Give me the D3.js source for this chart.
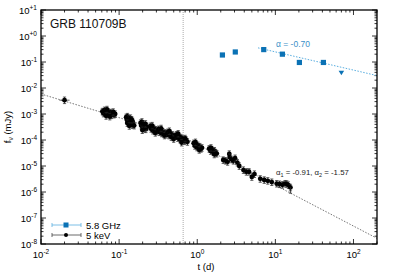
<!DOCTYPE html>
<html><head><meta charset="utf-8">
<script src="https://cdn.jsdelivr.net/npm/d3@7"></script>
<style>
html,body{margin:0;padding:0;background:#fff;}
svg{display:block;font-family:"Liberation Sans",Arial,sans-serif;}
</style></head>
<body>
<svg id="chart" width="395" height="275"></svg>
<script>
// ---------- data ----------
const xrayT = [0.020,
 0.061,0.063,0.065,0.067,0.069,0.071,0.073,0.075,0.078,0.080,0.083,0.086,0.089,0.068,0.076,0.070,0.084,
 0.123,0.126,0.128,0.130,0.132,0.134,0.137,0.140,0.143,0.146,0.149,0.152,0.156,0.127,0.135,0.145,
 0.188,0.192,0.196,0.200,0.205,0.210,0.215,0.220,0.226,0.198,0.218,
 0.250,0.256,0.262,0.270,0.278,0.286,0.295,0.305,0.265,0.290,
 0.320,0.330,0.340,0.350,0.362,0.375,0.388,0.400,0.345,0.380,
 0.420,0.435,0.450,0.465,0.480,0.495,0.510,0.440,0.500,
 0.540,0.560,0.580,0.600,0.620,0.640,0.660,0.690,0.720,0.750,0.570,0.630,0.700,
 0.90,0.93,0.96,0.99,1.02,1.05,1.08,1.12,1.15,0.95,1.06,
 1.42,1.48,1.54,1.60,1.66,1.72,1.78,1.50,1.65,
 2.15,2.30,2.45,2.57,2.60,2.75,2.90,3.05,3.26,3.45,3.90,4.25,4.60,5.00,5.40,
 6.4,7.2,8.0,9.0,10.4,11.3,12.3,13.3,14.0,14.7,15.6];
const xrayF = [3.4e-3,
 1.25e-3,1.05e-3,1.4e-3,1.15e-3,1.3e-3,0.95e-3,1.2e-3,1.05e-3,1.15e-3,0.9e-3,1.05e-3,0.95e-3,1.0e-3,0.85e-3,0.8e-3,1.5e-3,1.2e-3,
 7.5e-4,6.0e-4,8.0e-4,5.0e-4,6.5e-4,4.2e-4,5.5e-4,7.0e-4,4.6e-4,3.8e-4,5.2e-4,4.0e-4,3.6e-4,4.5e-4,3.5e-4,6.0e-4,
 4.5e-4,3.6e-4,5.0e-4,3.0e-4,4.0e-4,2.7e-4,3.4e-4,2.6e-4,3.1e-4,2.4e-4,4.2e-4,
 3.4e-4,2.7e-4,3.0e-4,2.3e-4,2.8e-4,2.2e-4,2.5e-4,2.1e-4,3.6e-4,1.9e-4,
 2.6e-4,2.0e-4,2.3e-4,1.8e-4,2.1e-4,1.7e-4,1.9e-4,1.6e-4,2.8e-4,1.5e-4,
 2.0e-4,1.5e-4,1.8e-4,1.3e-4,1.6e-4,1.25e-4,1.4e-4,2.2e-4,1.1e-4,
 1.6e-4,1.2e-4,1.4e-4,1.05e-4,1.25e-4,0.95e-4,1.1e-4,0.9e-4,1.0e-4,0.85e-4,1.75e-4,0.8e-4,1.15e-4,
 7.5e-5,6.0e-5,7.0e-5,5.2e-5,6.3e-5,4.8e-5,5.6e-5,4.6e-5,5.0e-5,8.2e-5,4.2e-5,
 4.6e-5,3.8e-5,4.3e-5,3.4e-5,3.9e-5,3.2e-5,3.0e-5,5.0e-5,2.8e-5,
 1.7e-5,1.6e-5,1.45e-5,2.9e-5,2.2e-5,1.8e-5,1.6e-5,2.0e-5,1.35e-5,1.0e-5,7.0e-6,6.0e-6,6.0e-6,3.8e-6,4.9e-6,
 3.2e-6,2.9e-6,2.7e-6,2.4e-6,2.1e-6,2.0e-6,1.9e-6,2.1e-6,2.05e-6,1.85e-6,1.5e-6];

const radioT = [2.1, 3.07, 7.1, 12.3, 20.3, 41.2];
const radioF = [0.186, 0.243, 0.30, 0.20, 0.096, 0.096];
const radioLimitT = [70];
const radioLimitF = [0.038];

// fits
const xrayFit = {t0: 0.01, tb: 0.66, tEnd: 200, Fb: 1.30e-4, a1: -0.91, a2: -1.57};
const radioFit = {t0: 6.0, tEnd: 200, F0: 0.35, a: -0.70};
const vlineT = 0.66;

const xTicks = [1e-2, 1e-1, 1e0, 1e1, 1e2];
const xTickExp = ["-2", "-1", "0", "1", "2"];
const yTicks = [1e1, 1e0, 1e-1, 1e-2, 1e-3, 1e-4, 1e-5, 1e-6, 1e-7, 1e-8];
const yTickExp = ["+1", "+0", "-1", "-2", "-3", "-4", "-5", "-6", "-7", "-8"];

// ---------- layout ----------
const W = 395, H = 275;
const m = {l: 41, r: 18, t: 10, b: 31};
const svg = d3.select("#chart");
const x = d3.scaleLog().domain([0.01, 200]).range([m.l, W - m.r]);
const y = d3.scaleLog().domain([1e-8, 10]).range([H - m.b, m.t]);
const X0 = m.l, X1 = W - m.r, Y0 = H - m.b, Y1 = m.t;

const BLUE = "#0b72b5", LBLUE = "#5aaee0";

function minorList(lo, hi) {
  const out = [];
  for (let e = Math.floor(Math.log10(lo)); e <= Math.ceil(Math.log10(hi)); e++) {
    for (let k = 1; k <= 9; k++) {
      const v = k * Math.pow(10, e);
      if (v >= lo * 0.999 && v <= hi * 1.001) out.push({v, major: k === 1});
    }
  }
  return out;
}
const tk = svg.append("g").attr("stroke", "#000").attr("stroke-width", 0.8);
minorList(0.01, 200).forEach(d => {
  const L = d.major ? 5 : 2.5, px = x(d.v);
  tk.append("line").attr("x1", px).attr("x2", px).attr("y1", Y0).attr("y2", Y0 - L);
  tk.append("line").attr("x1", px).attr("x2", px).attr("y1", Y1).attr("y2", Y1 + L);
});
minorList(1e-8, 10).forEach(d => {
  const L = d.major ? 5 : 2.5, py = y(d.v);
  tk.append("line").attr("x1", X0).attr("x2", X0 + L).attr("y1", py).attr("y2", py);
  tk.append("line").attr("x1", X1).attr("x2", X1 - L).attr("y1", py).attr("y2", py);
});

xTicks.forEach((v, i) => {
  const t = svg.append("text").attr("x", x(v)).attr("y", Y0 + 14)
    .attr("text-anchor", "middle").attr("font-size", 9.5).attr("fill", "#000");
  t.append("tspan").text("10");
  t.append("tspan").attr("dy", -4).attr("font-size", 6.5).text(xTickExp[i]);
});
yTicks.forEach((v, i) => {
  const t = svg.append("text").attr("x", X0 - 4).attr("y", y(v) + 3.5)
    .attr("text-anchor", "end").attr("font-size", 9.5).attr("fill", "#000");
  t.append("tspan").text("10");
  t.append("tspan").attr("dy", -4).attr("font-size", 6.5).text(yTickExp[i]);
});

svg.append("text").attr("x", 206).attr("y", Y0 + 26).attr("text-anchor", "middle")
  .attr("font-size", 9.5).text("t (d)");
const yl = svg.append("text").attr("transform", `translate(11,${(Y0 + Y1) / 2}) rotate(-90)`)
  .attr("text-anchor", "middle").attr("font-size", 9.5);
yl.append("tspan").text("f");
yl.append("tspan").attr("dy", 2).attr("font-size", 6.5).text("ν");
yl.append("tspan").attr("dy", -2).text(" (mJy)");

svg.append("line").attr("x1", x(vlineT)).attr("x2", x(vlineT)).attr("y1", Y1).attr("y2", Y0)
  .attr("stroke", "#aaa").attr("stroke-width", 1).attr("stroke-dasharray", "1,1");

const xf = xrayFit;
const xrayFitPts = [
  [xf.t0, xf.Fb * Math.pow(xf.t0 / xf.tb, xf.a1)],
  [xf.tb, xf.Fb],
  [xf.tEnd, xf.Fb * Math.pow(xf.tEnd / xf.tb, xf.a2)]
];
const line = d3.line().x(d => x(d[0])).y(d => y(d[1]));
svg.append("path").attr("d", line(xrayFitPts)).attr("fill", "none")
  .attr("stroke", "#666").attr("stroke-width", 0.9).attr("stroke-dasharray", "1.5,1.5");
const rf = radioFit;
const radioFitPts = [[rf.t0, rf.F0], [rf.tEnd, rf.F0 * Math.pow(rf.tEnd / rf.t0, rf.a)]];
svg.append("path").attr("d", line(radioFitPts)).attr("fill", "none")
  .attr("stroke", LBLUE).attr("stroke-width", 1).attr("stroke-dasharray", "1.5,1.5");

const xg = svg.append("g");
xrayT.forEach((t, i) => {
  const f = xrayF[i], px = x(t), py = y(f);
  const lo = y(f * 0.74), hi = y(f * 1.32);
  xg.append("line").attr("x1", px).attr("x2", px).attr("y1", lo).attr("y2", hi)
    .attr("stroke", "#222").attr("stroke-width", 0.8);
  xg.append("line").attr("x1", px - 1.6).attr("x2", px + 1.6).attr("y1", lo).attr("y2", lo)
    .attr("stroke", "#222").attr("stroke-width", 0.7);
  xg.append("line").attr("x1", px - 1.6).attr("x2", px + 1.6).attr("y1", hi).attr("y2", hi)
    .attr("stroke", "#222").attr("stroke-width", 0.7);
  if (i === 0) {
    xg.append("line").attr("x1", x(0.0172)).attr("x2", x(0.0232)).attr("y1", py).attr("y2", py)
      .attr("stroke", "#222").attr("stroke-width", 0.7);
  }
  xg.append("circle").attr("cx", px).attr("cy", py).attr("r", 2.4).attr("fill", "#000");
});
xg.append("line").attr("x1", x(15.6)).attr("x2", x(15.6)).attr("y1", y(1.5e-6)).attr("y2", y(0.9e-6))
  .attr("stroke", "#222").attr("stroke-width", 0.8);
xg.append("line").attr("x1", x(15.6) - 1.6).attr("x2", x(15.6) + 1.6).attr("y1", y(0.9e-6)).attr("y2", y(0.9e-6))
  .attr("stroke", "#222").attr("stroke-width", 0.7);

const rg = svg.append("g");
radioT.forEach((t, i) => {
  const px = x(t), py = y(radioF[i]);
  rg.append("line").attr("x1", px).attr("x2", px).attr("y1", y(radioF[i] * 0.9)).attr("y2", y(radioF[i] * 1.1))
    .attr("stroke", LBLUE).attr("stroke-width", 0.8);
  rg.append("rect").attr("x", px - 2.6).attr("y", py - 2.6).attr("width", 5.2).attr("height", 5.2)
    .attr("fill", BLUE);
});
radioLimitT.forEach((t, i) => {
  const px = x(t), py = y(radioLimitF[i]);
  rg.append("path").attr("d", `M${px - 2.8},${py - 2.2}L${px + 2.8},${py - 2.2}L${px},${py + 2.4}Z`)
    .attr("fill", BLUE);
});

svg.append("text").attr("x", 50).attr("y", 28).attr("font-size", 12).attr("fill", "#111").text("GRB 110709B");
svg.append("text").attr("x", 276).attr("y", 47).attr("font-size", 8.5).attr("fill", "#3a8fc8").text("α = -0.70");
const a12 = svg.append("text").attr("x", 276).attr("y", 175).attr("font-size", 7.8).attr("fill", "#222");
a12.append("tspan").text("α");
a12.append("tspan").attr("dy", 2).attr("font-size", 5.5).text("1");
a12.append("tspan").attr("dy", -2).text(" = -0.91, α");
a12.append("tspan").attr("dy", 2).attr("font-size", 5.5).text("2");
a12.append("tspan").attr("dy", -2).text(" = -1.57");

const lg = svg.append("g");
const legItems = [{label: "5.8 GHz", c: LBLUE, mc: BLUE, sq: true}, {label: "5 keV", c: "#444", mc: "#000", sq: false}];
legItems.forEach((d, i) => {
  const ly = 225 + i * 10;
  lg.append("line").attr("x1", 52).attr("x2", 81).attr("y1", ly).attr("y2", ly).attr("stroke", d.c).attr("stroke-width", 0.8);
  lg.append("line").attr("x1", 52).attr("x2", 52).attr("y1", ly - 2).attr("y2", ly + 2).attr("stroke", d.c).attr("stroke-width", 0.8);
  lg.append("line").attr("x1", 81).attr("x2", 81).attr("y1", ly - 2).attr("y2", ly + 2).attr("stroke", d.c).attr("stroke-width", 0.8);
  if (d.sq) lg.append("rect").attr("x", 66 - 2.5).attr("y", ly - 2.5).attr("width", 5).attr("height", 5).attr("fill", d.mc);
  else lg.append("circle").attr("cx", 66).attr("cy", ly).attr("r", 2).attr("fill", d.mc);
  lg.append("text").attr("x", 86).attr("y", ly + 3.5).attr("font-size", 9.5).attr("fill", "#000").text(d.label);
});

svg.append("rect").attr("x", X0).attr("y", Y1).attr("width", X1 - X0).attr("height", Y0 - Y1)
  .attr("fill", "none").attr("stroke", "#000").attr("stroke-width", 1.3);
</script>
</body></html>
